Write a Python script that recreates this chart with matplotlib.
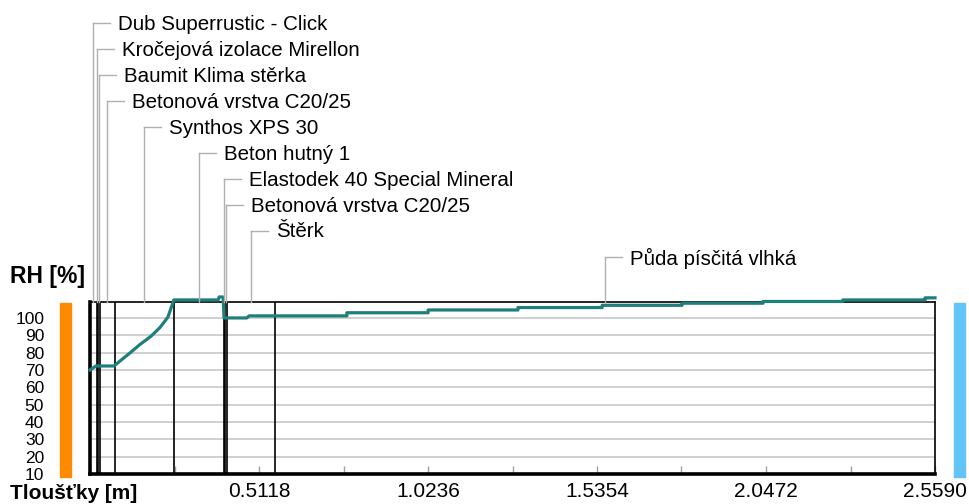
import numpy as np
import matplotlib
matplotlib.use('Agg')
import matplotlib.pyplot as plt
from matplotlib.lines import Line2D
from matplotlib.patches import Rectangle

font = ['Liberation Sans', 'DejaVu Sans']

# construction layers, inside (left) -> outside (right)
layers = ['Dub Superrustic - Click', 'Kročejová izolace Mirellon', 'Baumit Klima stěrka',
          'Betonová vrstva C20/25', 'Synthos XPS 30', 'Beton hutný 1',
          'Elastodek 40 Special Mineral', 'Betonová vrstva C20/25', 'Štěrk',
          'Půda písčitá vlhká']
thickness = [0.020, 0.005, 0.005, 0.045, 0.180, 0.150, 0.004, 0.005, 0.145, 2.000]

# relative humidity profile
depth = [0.000, 0.018, 0.073, 0.091, 0.121, 0.150, 0.185, 0.212, 0.236, 0.254, 0.388, 0.391,
         0.403, 0.406, 0.475, 0.482, 0.778, 0.778, 1.024, 1.024, 1.296, 1.296, 1.551,
         1.551, 1.793, 1.793, 2.038, 2.038, 2.280, 2.280, 2.529, 2.529, 2.559]
rh = [70.0, 72.3, 72.3, 75.2, 79.8, 84.5, 89.5, 94.5, 100.5, 110.4, 110.4, 112.1,
      112.1, 100.0, 100.0, 101.2, 101.2, 103.0, 103.0, 104.6, 104.6, 106.0, 106.0,
      107.3, 107.3, 108.5, 108.5, 109.5, 109.5, 110.4, 110.4, 111.6, 111.6]

yticks = [100, 90, 80, 70, 60, 50, 40, 30, 20, 10]
xticks = [0.2559, 0.5118, 0.7677, 1.0236, 1.2795, 1.5354, 1.7913, 2.0472, 2.3031, 2.5590]
xlabels = ['', '0.5118', '', '1.0236', '', '1.5354', '', '2.0472', '', '2.5590']

W, H = 969, 504
fig = plt.figure(figsize=(W / 100, H / 100), dpi=100)
ax = fig.add_axes([90 / W, 30 / H, 845 / W, 172 / H])
ax.set_xlim(0, 2.559)
ax.set_ylim(10, 109.2)

# grid
for v in yticks[:-1]:
    ax.axhline(v, color='#c8c8c8', lw=1.2, zorder=1)

# layer boundaries
bounds = np.concatenate([[0], np.cumsum(thickness)])
for b in bounds[1:-1]:
    ax.axvline(b, color='black', lw=1.2, zorder=2)

ax.plot(depth, rh, color='#1f7f7a', lw=2.3, zorder=5, clip_on=False)

for side, w in [('left', 2.6), ('bottom', 2.6), ('top', 1.2), ('right', 1.2)]:
    ax.spines[side].set_linewidth(w)
    ax.spines[side].set_color('black')
    ax.spines[side].set_zorder(4)

ax.set_yticks(yticks)
ax.set_yticklabels([str(v) for v in yticks], family=font, fontsize=12.5)
ax.tick_params(axis='y', length=0, pad=33)
ax.set_xticks(xticks)
ax.set_xticklabels(xlabels, family=font, fontsize=15)
ax.tick_params(axis='x', direction='in', length=6, color='#a0a0a0', width=1, pad=6)

# boundary condition bars
fig.patches.append(Rectangle((60 / W, 27 / H), 11 / W, 174 / H, color='#ff8a00',
                             transform=fig.transFigure))
fig.patches.append(Rectangle((954 / W, 27 / H), 11 / W, 174 / H, color='#62c4f6',
                             transform=fig.transFigure))

fig.text(10 / W, 1 - 277 / H, 'RH [%]', family=font, fontsize=16.5, fontweight='bold',
         va='center', ha='left')
fig.text(10 / W, 1 - 493.5 / H, 'Tloušťky [m]', family=font, fontsize=15,
         fontweight='bold', va='center', ha='left')

# leader labels
fig.canvas.draw()
top_px = 302
for i, name in enumerate(layers):
    c = bounds[i] + thickness[i] / 2
    xp = ax.transData.transform((c, 0))[0]
    yl = 23 + 26.0 * i
    col = '#b0b0b0'
    fig.add_artist(Line2D([xp / W, xp / W], [1 - yl / H, 1 - top_px / H], color=col,
                          lw=1, transform=fig.transFigure))
    fig.add_artist(Line2D([xp / W, (xp + 17) / W], [1 - yl / H, 1 - yl / H], color=col,
                          lw=1, transform=fig.transFigure))
    fig.text((xp + 25) / W, 1 - (yl + 1) / H, name, family=font, fontsize=14.8,
             va='center', ha='left')

fig.savefig('out.png', dpi=100)
